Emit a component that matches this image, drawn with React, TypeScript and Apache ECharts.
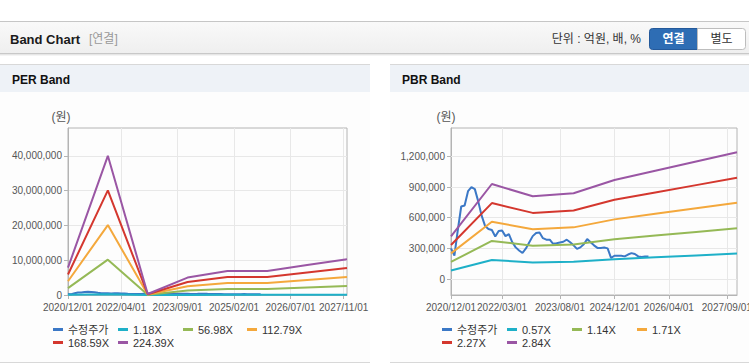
import React, { useEffect, useRef } from 'react';
import * as echarts from 'echarts';

const FF = "'Liberation Sans', Arial, 'Noto Sans CJK KR', sans-serif";

// Monthly categories 2020/12/01 .. 2027/12/01
const months: string[] = [];
for (let i = 0; i < 85; i++) {
  const m0 = 11 + i;
  const y = 2020 + Math.floor(m0 / 12);
  const m = (m0 % 12) + 1;
  months.push(`${y}/${String(m).padStart(2, '0')}/01`);
}

const perTickLabels = ['2020/12/01', '2022/04/01', '2023/09/01', '2025/02/01', '2026/07/01', '2027/11/01'];
const pbrTickLabels = ['2020/12/01', '2022/03/01', '2023/08/01', '2024/12/01', '2026/04/01', '2027/09/01'];

const perYTicks = [0, 10000000, 20000000, 30000000, 40000000];
const pbrYTicks = [0, 300000, 600000, 900000, 1200000];

// band anchor dates
const bandDates = ['2020/12/01', '2021/12/01', '2022/12/01', '2023/12/01', '2024/12/01', '2025/12/01', '2026/12/01', '2027/12/01'];

// 수정주가 (monthly, from 2020/12)
const stockPrice = [
  300000, 230000, 480000, 710000, 720000, 860000, 900000, 880000, 760000, 620000,
  520000, 490000, 480000, 417000, 470000, 475000, 420000, 440000, 360000, 310000,
  280000, 255000, 300000, 360000, 420000, 450000, 455000, 400000, 385000, 385000,
  345000, 350000, 358000, 365000, 385000, 360000, 330000, 295000, 310000, 340000,
  391000, 360000, 330000, 305000, 305000, 308000, 300000, 208000, 228000, 228000,
  228000, 222000, 240000, 254000, 245000, 222000, 215000, 220000, 221000,
];

// PER bands
const perNames = ['1.18X', '56.98X', '112.79X', '168.59X', '224.39X'];
const per118 = [41300, 210300, 1580, 26300, 36200, 36200, 45200, 54200];
const per5698 = [1994000, 10157000, 76400, 1270700, 1749300, 1749300, 2182300, 2615400];
const per11279 = [3947700, 20106000, 151100, 2515200, 3462700, 3462700, 4319900, 5177100];
const per16859 = [5900700, 30052000, 225900, 3759600, 5175700, 5175700, 6457000, 7738300];
const per22439 = [7853700, 40000000, 300700, 5003900, 6888800, 6888800, 8594100, 10299500];

// PBR bands
const pbrNames = ['0.57X', '1.14X', '1.71X', '2.27X', '2.84X'];
const pbr057 = [83700, 186700, 162600, 168600, 194700, 212700, 230800, 248900];
const pbr114 = [167400, 373400, 325100, 337200, 389300, 425400, 461600, 497700];
const pbr171 = [251000, 560000, 487700, 505800, 584000, 638200, 692400, 746600];
const pbr227 = [333200, 743400, 647400, 671500, 775200, 847200, 919100, 991100];
const pbr284 = [416900, 930100, 810000, 840100, 969900, 1059900, 1149900, 1240000];

const STOCK = '#3b78c6';
const bandColors = ['#1eb0c8', '#95b956', '#f4a83c', '#d4372e', '#9a56a4'];

const fmt = (v: number) => (v === 0 ? '0' : Number(v).toLocaleString('en-US'));

function bandSeries(name: string, values: number[], color: string, axis: number) {
  return {
    name,
    type: 'line',
    xAxisIndex: axis,
    yAxisIndex: axis,
    data: bandDates.map((d, i) => [d, values[i]]),
    showSymbol: false,
    symbol: 'none',
    color,
    itemStyle: { color },
    lineStyle: { width: 2, color },
    connectNulls: true,
    z: 3,
  };
}

function stockSeries(axis: number) {
  return {
    name: '수정주가',
    type: 'line',
    xAxisIndex: axis,
    yAxisIndex: axis,
    data: stockPrice,
    showSymbol: false,
    symbol: 'none',
    color: STOCK,
    itemStyle: { color: STOCK },
    lineStyle: { width: 2, color: STOCK },
    z: 3,
  };
}

function xAxis(gridIndex: number, ticks: string[]) {
  const show = (_i: number, v: string) => ticks.includes(v);
  return {
    gridIndex,
    type: 'category',
    data: months,
    boundaryGap: false,
    axisLine: { show: true, onZero: false, lineStyle: { color: '#b4b4b4' } },
    axisTick: { show: true, interval: show, length: 4, lineStyle: { color: '#b4b4b4' } },
    axisLabel: { interval: show, color: '#555', fontSize: 10, fontFamily: FF, margin: 7 },
    splitLine: { show: true, interval: show, lineStyle: { color: '#e8e8e8' } },
  };
}

function legendItem(name: string, left: number, top: number) {
  return {
    data: [name],
    left,
    top,
    orient: 'horizontal',
    icon: 'rect',
    itemWidth: 10,
    itemHeight: 3,
    itemGap: 0,
    padding: 0,
    selectedMode: false,
    textStyle: { fontSize: 11, color: '#333', fontFamily: FF },
  };
}

export default function App() {
  const ref = useRef<HTMLDivElement>(null);

  useEffect(() => {
    if (!ref.current) return;
    const chart = echarts.init(ref.current, undefined, { renderer: 'svg' });

    const graphic: any[] = [
      // header
      { type: 'rect', z: -5, shape: { x: 0, y: 21, width: 749, height: 1 }, style: { fill: '#c6c6c6' } },
      {
        type: 'rect', z: -5, shape: { x: 0, y: 22, width: 749, height: 31 },
        style: { fill: { type: 'linear', x: 0, y: 0, x2: 0, y2: 1, colorStops: [{ offset: 0, color: '#f9f9f9' }, { offset: 1, color: '#efefef' }] } },
      },
      { type: 'rect', z: -5, shape: { x: 0, y: 53, width: 749, height: 1 }, style: { fill: '#c8c8c8' } },
      { type: 'rect', z: -5, shape: { x: 0, y: 54, width: 749, height: 1 }, style: { fill: '#e6e6e6' } },
      { type: 'rect', z: -5, shape: { x: 0, y: 55, width: 749, height: 1 }, style: { fill: '#f4f4f4' } },
      { type: 'text', z: 10, x: 10, y: 39, style: { text: 'Band Chart', fontSize: 13, fontWeight: 'bold', fontFamily: FF, fill: '#1a1a1a', verticalAlign: 'middle' } },
      { type: 'text', z: 10, x: 89, y: 39, style: { text: '[연결]', fontSize: 12, fontFamily: FF, fill: '#999', verticalAlign: 'middle' } },
      { type: 'text', z: 10, x: 641, y: 39, style: { text: '단위 : 억원, 배, %', fontSize: 12, fontFamily: FF, fill: '#333', align: 'right', verticalAlign: 'middle' } },
      { type: 'rect', z: 5, shape: { x: 649.5, y: 28.5, width: 48, height: 21, r: [3, 0, 0, 3] }, style: { fill: '#2e6db4', stroke: '#24599a', lineWidth: 1 } },
      { type: 'text', z: 10, x: 673.5, y: 39, style: { text: '연결', fontSize: 12, fontWeight: 'bold', fontFamily: FF, fill: '#fff', align: 'center', verticalAlign: 'middle' } },
      { type: 'rect', z: 5, shape: { x: 697.5, y: 28.5, width: 48, height: 21, r: [0, 3, 3, 0] }, style: { fill: '#ffffff', stroke: '#bdbdbd', lineWidth: 1 } },
      { type: 'text', z: 10, x: 721.5, y: 39, style: { text: '별도', fontSize: 12, fontFamily: FF, fill: '#333', align: 'center', verticalAlign: 'middle' } },
    ];

    const panels = [
      { x: 0, w: 370, title: 'PER Band', unitX: 61 },
      { x: 390, w: 359, title: 'PBR Band', unitX: 446 },
    ];
    panels.forEach((p) => {
      graphic.push(
        { type: 'rect', z: -5, shape: { x: p.x, y: 64, width: p.w, height: 298 }, style: { fill: '#fdfdfd' } },
        { type: 'rect', z: -4, shape: { x: p.x, y: 64, width: p.w, height: 1 }, style: { fill: '#d8d8d8' } },
        { type: 'rect', z: -4, shape: { x: p.x, y: 65, width: p.w, height: 27 }, style: { fill: '#eef2f7' } },
        { type: 'rect', z: -4, shape: { x: p.x, y: 362, width: p.w, height: 1 }, style: { fill: '#d8d8d8' } },
        { type: 'text', z: 10, x: p.x + 12, y: 80, style: { text: p.title, fontSize: 12, fontWeight: 'bold', fontFamily: FF, fill: '#111', verticalAlign: 'middle' } },
        { type: 'text', z: 10, x: p.unitX, y: 117, style: { text: '(원)', fontSize: 12, fontFamily: FF, fill: '#555', align: 'center', verticalAlign: 'middle' } },
      );
    });

    const option: any = {
      animation: false,
      backgroundColor: '#ffffff',
      textStyle: { fontFamily: FF },
      graphic,
      grid: [
        { left: 68, top: 128, width: 279, height: 167, show: true, borderColor: '#b4b4b4', borderWidth: 1, backgroundColor: 'transparent', containLabel: false, outerBoundsMode: 'none' },
        { left: 451, top: 128, width: 286, height: 167, show: true, borderColor: '#b4b4b4', borderWidth: 1, backgroundColor: 'transparent', containLabel: false, outerBoundsMode: 'none' },
      ],
      xAxis: [xAxis(0, perTickLabels), xAxis(1, pbrTickLabels)],
      yAxis: [
        {
          gridIndex: 0,
          type: 'value',
          min: 0,
          max: 48000000,
          interval: 10000000,
          axisLine: { show: true, onZero: false, lineStyle: { color: '#b4b4b4' } },
          axisTick: { show: true, length: 4, lineStyle: { color: '#b4b4b4' }, customValues: perYTicks },
          axisLabel: {
            showMaxLabel: false,
            color: '#555', fontSize: 10, fontFamily: FF, margin: 6,
            formatter: (v: number) => (perYTicks.includes(v) ? fmt(v) : ''),
          },
          splitLine: { show: true, lineStyle: { color: '#e8e8e8' } },
        },
        {
          gridIndex: 1,
          type: 'value',
          min: -156000,
          max: 1478000,
          axisLine: { show: true, onZero: false, lineStyle: { color: '#b4b4b4' } },
          axisTick: { show: true, length: 4, lineStyle: { color: '#b4b4b4' }, customValues: pbrYTicks },
          axisLabel: { customValues: pbrYTicks, color: '#555', fontSize: 10, fontFamily: FF, margin: 6, formatter: (v: number) => fmt(v) },
          splitLine: { show: false },
        },
      ],
      legend: [
        legendItem('수정주가', 53, 324),
        legendItem(perNames[0], 118, 324),
        legendItem(perNames[1], 183, 324),
        legendItem(perNames[2], 247, 324),
        legendItem(perNames[3], 53, 337),
        legendItem(perNames[4], 118, 337),
        legendItem(pbrNames[0], 507, 324),
        legendItem(pbrNames[1], 572, 324),
        legendItem(pbrNames[2], 637, 324),
        legendItem(pbrNames[3], 442, 337),
        legendItem(pbrNames[4], 507, 337),
        legendItem('수정주가', 442, 324),
      ],
      series: [
        stockSeries(0),
        bandSeries(perNames[0], per118, bandColors[0], 0),
        bandSeries(perNames[1], per5698, bandColors[1], 0),
        bandSeries(perNames[2], per11279, bandColors[2], 0),
        bandSeries(perNames[3], per16859, bandColors[3], 0),
        bandSeries(perNames[4], per22439, bandColors[4], 0),
        {
          name: 'pbr-grid',
          type: 'line',
          xAxisIndex: 1,
          yAxisIndex: 1,
          data: [],
          silent: true,
          z: 1,
          markLine: {
            silent: true,
            z: 1,
            symbol: ['none', 'none'],
            label: { show: false },
            lineStyle: { color: '#e8e8e8', width: 1, type: 'solid' },
            data: pbrYTicks.map((v) => ({ yAxis: v })),
          },
        },
        stockSeries(1),
        bandSeries(pbrNames[0], pbr057, bandColors[0], 1),
        bandSeries(pbrNames[1], pbr114, bandColors[1], 1),
        bandSeries(pbrNames[2], pbr171, bandColors[2], 1),
        bandSeries(pbrNames[3], pbr227, bandColors[3], 1),
        bandSeries(pbrNames[4], pbr284, bandColors[4], 1),
      ],
    };

    chart.setOption(option);
    return () => chart.dispose();
  }, []);

  return (
    <div
      ref={ref}
      style={{ position: 'absolute', left: 0, top: 0, width: 749, height: 364 }}
    />
  );
}
